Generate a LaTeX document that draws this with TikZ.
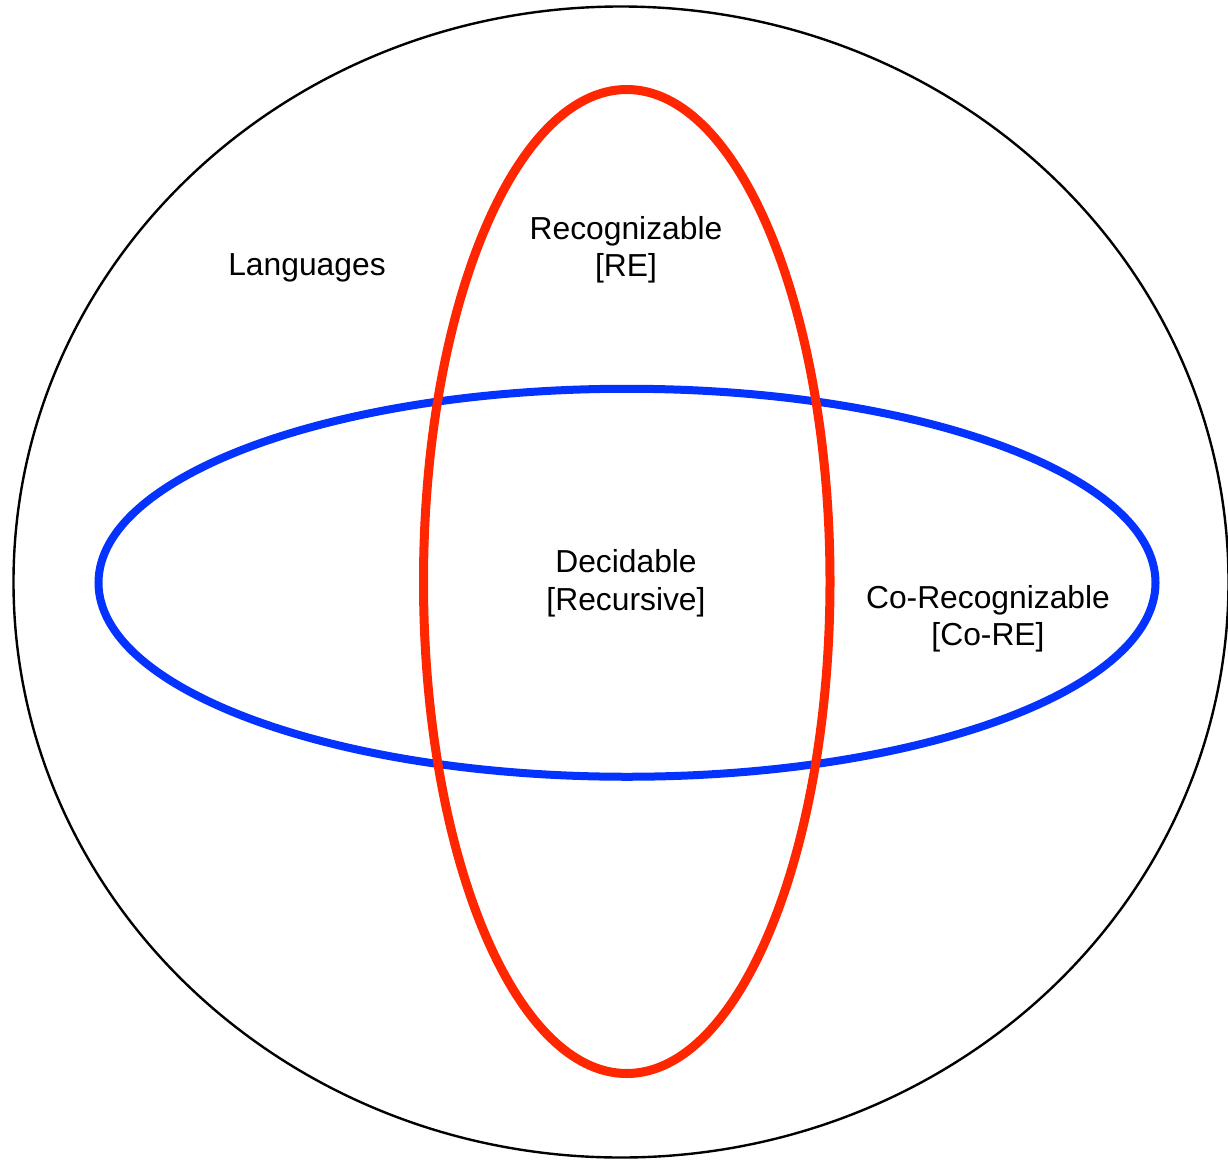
\documentclass[tikz,border=0pt]{standalone}
\usepackage{fontspec}
\setmainfont{Liberation Sans}
\definecolor{redline}{HTML}{FF2600}
\definecolor{blueline}{HTML}{0433FF}
\begin{document}
\begin{tikzpicture}[x=1pt,y=-1pt,
  lbl/.style={align=center,font=\fontsize{31.8}{37.5}\selectfont,inner sep=0pt}]
\useasboundingbox (0,0) rectangle (1228,1159);
\draw[line width=2.4pt] (621,582) ellipse [x radius=607.5, y radius=575.5];
\draw[blueline,line width=8pt] (627,582.75) ellipse [x radius=528.5, y radius=194];
\draw[redline,line width=9pt] (626.75,581.5) ellipse [x radius=203.25, y radius=492];
\node[lbl] (lang) at (307,267.5) {Languages};
\node[lbl] (re) at (626,250) {Recognizable\\{[RE]}};
\node[lbl] (dec) at (626,583.5) {Decidable\\{[Recursive]}};
\node[lbl] (core) at (988,619) {Co-Recognizable\\{[Co-RE]}};
\end{tikzpicture}
\end{document}
